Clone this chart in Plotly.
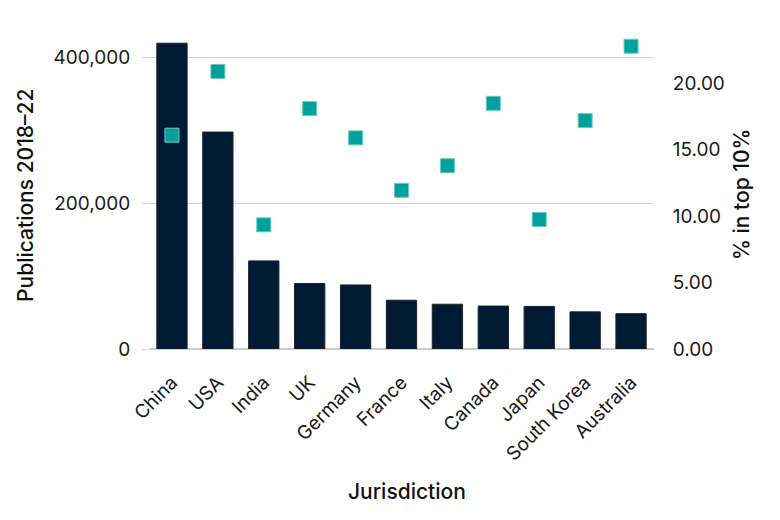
import plotly.graph_objects as go

# values
jurisdictions = ['China', 'USA', 'India', 'UK', 'Germany', 'France', 'Italy',
                 'Canada', 'Japan', 'South Korea', 'Australia']
publications = [420000, 298000, 121000, 90000, 88000, 67000, 61500, 59000, 58500, 51000, 48500]
pct_top10 = [16.1, 20.9, 9.35, 18.1, 15.9, 11.95, 13.8, 18.5, 9.75, 17.2, 22.8]

navy = '#011b35'
teal = '#00a19d'
font_name = 'Inter'

fig = go.Figure()

fig.add_trace(go.Bar(
    x=jurisdictions, y=publications,
    name='Publications 2018-22',
    marker=dict(color=navy, line=dict(color='#1a2530', width=1)),
))

fig.add_trace(go.Scatter(
    x=jurisdictions, y=pct_top10,
    name='% in top 10%', yaxis='y2', mode='markers',
    marker=dict(symbol='square', size=14, color=teal, line=dict(color='#6cc9c5', width=1)),
))

title_font = dict(family=font_name, size=21, weight=500, color='#111111')

# the page puts the figure 8px in from the top-left corner, margins allow for that
fig.update_layout(
    width=780, height=520,
    margin=dict(l=141, r=134, t=9, b=179),
    plot_bgcolor='white', paper_bgcolor='white',
    showlegend=False,
    bargap=0.34,
    font=dict(family=font_name, size=19, color='#1a1a1a'),
    xaxis=dict(
        automargin=False,
        range=[-0.5, len(jurisdictions) - 0.5],
        tickangle=-45,
        tickfont=dict(size=19),
        ticks='outside', ticklen=14, tickcolor='rgba(0,0,0,0)',
        showgrid=False,
        showline=False,
    ),
    yaxis=dict(
        automargin=False,
        range=[0, 456000],
        tickvals=[0, 200000, 400000],
        tickformat=',',
        showgrid=True, gridcolor='#d4d4d4', gridwidth=1.3,
        zeroline=True, zerolinecolor='#cccccc', zerolinewidth=2,
        ticks='outside', ticklen=6, tickcolor='#d4d4d4',
        ticklabelstandoff=8,
    ),
    yaxis2=dict(
        automargin=False,
        range=[0, 25],
        tickvals=[0, 5, 10, 15, 20],
        tickformat='.2f',
        overlaying='y', side='right',
        showgrid=False, zeroline=False,
        ticks='outside', ticklen=14, tickcolor='rgba(0,0,0,0)',
    ),
)

# axis titles as annotations, placed a bit below the plot centre like the original
fig.add_annotation(text='Publications 2018\u201322', xref='paper', yref='paper',
                   x=-0.2436, y=0.464, textangle=-90, showarrow=False,
                   xanchor='center', yanchor='middle', font=title_font)
fig.add_annotation(text='% in top 10%', xref='paper', yref='paper',
                   x=1.1743, y=0.464, textangle=-90, showarrow=False,
                   xanchor='center', yanchor='middle', font=title_font)
fig.add_annotation(text='Jurisdiction', xref='paper', yref='paper',
                   x=0.511, y=-0.428, showarrow=False,
                   xanchor='center', yanchor='middle', font=title_font)

fig.write_html("out.html")
